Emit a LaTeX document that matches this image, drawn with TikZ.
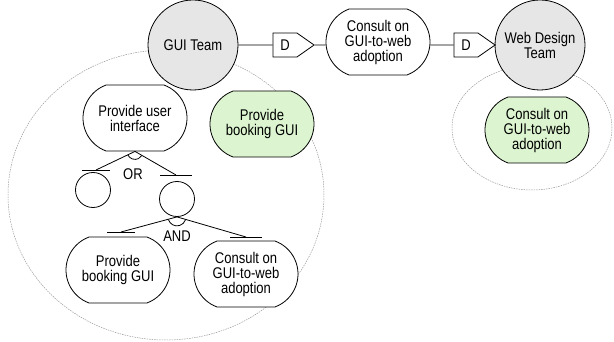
\documentclass[tikz,border=0pt]{standalone}
\usepackage{fontspec}
\setmainfont{Liberation Sans}[FakeStretch=0.84]
\usetikzlibrary{shapes.symbols, shapes.misc}
\definecolor{actorgray}{RGB}{230,230,230}
\definecolor{goalgreen}{RGB}{220,245,208}
\tikzset{
  actor/.style={circle, draw, fill=actorgray, minimum size=90pt, inner sep=0pt, align=center},
  goal/.style={rounded rectangle, rounded rectangle arc length=140, draw, fill=white, minimum width=106pt, minimum height=66pt, inner sep=1pt, align=center},
  owned/.style={goal, fill=goalgreen},
  dep/.style={signal, signal to=east, signal pointer angle=70, draw, fill=white, minimum height=24pt, minimum width=41pt, inner sep=0pt},
  dot/.style={circle, draw, minimum size=35pt, inner sep=0pt},
  bound/.style={draw=gray!80, dash pattern=on 1.5pt off 1pt, line width=0.5pt}
}
\begin{document}
\begin{tikzpicture}[x=1pt, y=-1pt, line width=0.8pt, font=\fontsize{15.5}{15}\selectfont]
\useasboundingbox (0,0) rectangle (614,342);
% boundaries
\draw [bound] (166,195) ellipse [x radius=158pt, y radius=145pt];
\draw [bound] (532,128) ellipse [x radius=80pt, y radius=62pt];
% actors and dependency
\node [actor] (gui) at (193,45) {GUI Team};
\node [actor] (web) at (540,45) {Web Design\\Team};
\node [dep] (dA) at (285,45) {D\hspace{6pt}};
\node [goal] (consultTop) at (378,42) {Consult on\\GUI-to-web\\adoption};
\node [dep] (dB) at (466,45) {D\hspace{6pt}};
\draw (gui) -- (dA);
\draw (dA) -- (dA -| consultTop.west);
\draw (dB -| consultTop.east) -- (dB);
\draw (dB) -- (web);
% inside web design team
\node [owned] (consultRight) at (537,130) {Consult on\\GUI-to-web\\adoption};
% inside gui team
\node [goal] (goalUI) at (135,118) {Provide user\\interface};
\node [owned] (bookTop) at (262,124) {Provide\\booking GUI};
\node [dot] (orL) at (93,190) {};
\node [dot] (orR) at (177,199) {};
\node [goal] (bookBot) at (118,270) {Provide\\booking GUI};
\node [goal] (consultBot) at (246,274) {Consult on\\GUI-to-web\\adoption};
% bars over the sub goals
\coordinate (barL) at (96,170);
\coordinate (barR) at (176,175);
\coordinate (barBook) at (121,232);
\coordinate (barConsult) at (246,237);
\draw ([xshift=-14pt]barL) -- ([xshift=14pt]barL);
\draw ([xshift=-16pt]barR) -- ([xshift=16pt]barR);
\draw ([xshift=-14pt]barBook) -- ([xshift=14pt]barBook);
\draw ([xshift=-16pt]barConsult) -- ([xshift=16pt]barConsult);
% OR decomposition
\draw (goalUI.south) -- (barL);
\draw (goalUI.south) -- (barR);
\draw ([shift={(205.5:8pt)}]goalUI.south) arc [start angle=205.5, end angle=329, radius=8pt];
\node (or) at (133,174) {OR};
% AND decomposition
\draw (orR.south) -- (barBook);
\draw (orR.south) -- (barConsult);
\draw ([shift={(196.9:9pt)}]orR.south) arc [start angle=196.9, end angle=342.3, radius=9pt];
\node (and) at (177,236) {AND};
\end{tikzpicture}
\end{document}
